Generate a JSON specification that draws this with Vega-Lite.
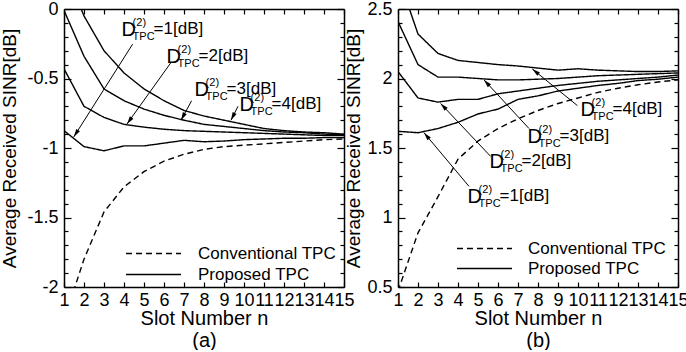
{
  "$schema": "https://vega.github.io/schema/vega-lite/v6.json",
  "padding": 0,
  "bounds": "flush",
  "spacing": 54,
  "config": {
    "font": "Liberation Sans",
    "view": {"stroke": null},
    "axis": {"grid": false, "domainColor": "black", "domainWidth": 1.5, "tickColor": "black", "tickWidth": 1.2, "labelColor": "black", "titleColor": "black", "labelFont": "Liberation Sans", "labelFontSize": 18, "titleFont": "Liberation Sans", "titleFontSize": 19, "titleFontWeight": "normal", "labelOverlap": false, "labelFlush": false},
    "text": {"font": "Liberation Sans", "color": "black"}
  },
  "datasets": {
    "a": [
      {"s":"c","m":"Conventional TPC","n":1,"v":-2.24},{"s":"c","m":"Conventional TPC","n":2,"v":-1.80},{"s":"c","m":"Conventional TPC","n":3,"v":-1.46},{"s":"c","m":"Conventional TPC","n":4,"v":-1.28},{"s":"c","m":"Conventional TPC","n":5,"v":-1.17},{"s":"c","m":"Conventional TPC","n":6,"v":-1.095},{"s":"c","m":"Conventional TPC","n":7,"v":-1.045},{"s":"c","m":"Conventional TPC","n":8,"v":-1.01},{"s":"c","m":"Conventional TPC","n":9,"v":-0.99},{"s":"c","m":"Conventional TPC","n":10,"v":-0.98},{"s":"c","m":"Conventional TPC","n":11,"v":-0.97},{"s":"c","m":"Conventional TPC","n":12,"v":-0.96},{"s":"c","m":"Conventional TPC","n":13,"v":-0.95},{"s":"c","m":"Conventional TPC","n":14,"v":-0.94},{"s":"c","m":"Conventional TPC","n":15,"v":-0.935},
      {"s":"p1","m":"Proposed TPC","n":1,"v":-0.875},{"s":"p1","m":"Proposed TPC","n":2,"v":-0.99},{"s":"p1","m":"Proposed TPC","n":3,"v":-1.02},{"s":"p1","m":"Proposed TPC","n":4,"v":-0.985},{"s":"p1","m":"Proposed TPC","n":5,"v":-0.985},{"s":"p1","m":"Proposed TPC","n":6,"v":-0.965},{"s":"p1","m":"Proposed TPC","n":7,"v":-0.945},{"s":"p1","m":"Proposed TPC","n":8,"v":-0.955},{"s":"p1","m":"Proposed TPC","n":9,"v":-0.95},{"s":"p1","m":"Proposed TPC","n":10,"v":-0.94},{"s":"p1","m":"Proposed TPC","n":11,"v":-0.935},{"s":"p1","m":"Proposed TPC","n":12,"v":-0.93},{"s":"p1","m":"Proposed TPC","n":13,"v":-0.93},{"s":"p1","m":"Proposed TPC","n":14,"v":-0.925},{"s":"p1","m":"Proposed TPC","n":15,"v":-0.925},
      {"s":"p2","m":"Proposed TPC","n":1,"v":-0.43},{"s":"p2","m":"Proposed TPC","n":2,"v":-0.70},{"s":"p2","m":"Proposed TPC","n":3,"v":-0.78},{"s":"p2","m":"Proposed TPC","n":4,"v":-0.83},{"s":"p2","m":"Proposed TPC","n":5,"v":-0.85},{"s":"p2","m":"Proposed TPC","n":6,"v":-0.865},{"s":"p2","m":"Proposed TPC","n":7,"v":-0.875},{"s":"p2","m":"Proposed TPC","n":8,"v":-0.88},{"s":"p2","m":"Proposed TPC","n":9,"v":-0.885},{"s":"p2","m":"Proposed TPC","n":10,"v":-0.89},{"s":"p2","m":"Proposed TPC","n":11,"v":-0.895},{"s":"p2","m":"Proposed TPC","n":12,"v":-0.90},{"s":"p2","m":"Proposed TPC","n":13,"v":-0.905},{"s":"p2","m":"Proposed TPC","n":14,"v":-0.91},{"s":"p2","m":"Proposed TPC","n":15,"v":-0.91},
      {"s":"p3","m":"Proposed TPC","n":1,"v":-0.01},{"s":"p3","m":"Proposed TPC","n":2,"v":-0.34},{"s":"p3","m":"Proposed TPC","n":3,"v":-0.575},{"s":"p3","m":"Proposed TPC","n":4,"v":-0.66},{"s":"p3","m":"Proposed TPC","n":5,"v":-0.72},{"s":"p3","m":"Proposed TPC","n":6,"v":-0.765},{"s":"p3","m":"Proposed TPC","n":7,"v":-0.80},{"s":"p3","m":"Proposed TPC","n":8,"v":-0.83},{"s":"p3","m":"Proposed TPC","n":9,"v":-0.845},{"s":"p3","m":"Proposed TPC","n":10,"v":-0.86},{"s":"p3","m":"Proposed TPC","n":11,"v":-0.875},{"s":"p3","m":"Proposed TPC","n":12,"v":-0.885},{"s":"p3","m":"Proposed TPC","n":13,"v":-0.89},{"s":"p3","m":"Proposed TPC","n":14,"v":-0.90},{"s":"p3","m":"Proposed TPC","n":15,"v":-0.905},
      {"s":"p4","m":"Proposed TPC","n":1,"v":0.30},{"s":"p4","m":"Proposed TPC","n":2,"v":-0.05},{"s":"p4","m":"Proposed TPC","n":3,"v":-0.30},{"s":"p4","m":"Proposed TPC","n":4,"v":-0.46},{"s":"p4","m":"Proposed TPC","n":5,"v":-0.575},{"s":"p4","m":"Proposed TPC","n":6,"v":-0.66},{"s":"p4","m":"Proposed TPC","n":7,"v":-0.73},{"s":"p4","m":"Proposed TPC","n":8,"v":-0.77},{"s":"p4","m":"Proposed TPC","n":9,"v":-0.80},{"s":"p4","m":"Proposed TPC","n":10,"v":-0.83},{"s":"p4","m":"Proposed TPC","n":11,"v":-0.86},{"s":"p4","m":"Proposed TPC","n":12,"v":-0.875},{"s":"p4","m":"Proposed TPC","n":13,"v":-0.885},{"s":"p4","m":"Proposed TPC","n":14,"v":-0.89},{"s":"p4","m":"Proposed TPC","n":15,"v":-0.90}
    ],
    "b": [
      {"s":"c","m":"Conventional TPC","n":1,"v":0.47},{"s":"c","m":"Conventional TPC","n":2,"v":0.89},{"s":"c","m":"Conventional TPC","n":3,"v":1.15},{"s":"c","m":"Conventional TPC","n":4,"v":1.42},{"s":"c","m":"Conventional TPC","n":5,"v":1.55},{"s":"c","m":"Conventional TPC","n":6,"v":1.64},{"s":"c","m":"Conventional TPC","n":7,"v":1.71},{"s":"c","m":"Conventional TPC","n":8,"v":1.77},{"s":"c","m":"Conventional TPC","n":9,"v":1.82},{"s":"c","m":"Conventional TPC","n":10,"v":1.86},{"s":"c","m":"Conventional TPC","n":11,"v":1.90},{"s":"c","m":"Conventional TPC","n":12,"v":1.93},{"s":"c","m":"Conventional TPC","n":13,"v":1.955},{"s":"c","m":"Conventional TPC","n":14,"v":1.975},{"s":"c","m":"Conventional TPC","n":15,"v":1.99},
      {"s":"p1","m":"Proposed TPC","n":1,"v":1.62},{"s":"p1","m":"Proposed TPC","n":2,"v":1.61},{"s":"p1","m":"Proposed TPC","n":3,"v":1.64},{"s":"p1","m":"Proposed TPC","n":4,"v":1.685},{"s":"p1","m":"Proposed TPC","n":5,"v":1.745},{"s":"p1","m":"Proposed TPC","n":6,"v":1.78},{"s":"p1","m":"Proposed TPC","n":7,"v":1.85},{"s":"p1","m":"Proposed TPC","n":8,"v":1.875},{"s":"p1","m":"Proposed TPC","n":9,"v":1.91},{"s":"p1","m":"Proposed TPC","n":10,"v":1.93},{"s":"p1","m":"Proposed TPC","n":11,"v":1.95},{"s":"p1","m":"Proposed TPC","n":12,"v":1.965},{"s":"p1","m":"Proposed TPC","n":13,"v":1.985},{"s":"p1","m":"Proposed TPC","n":14,"v":1.995},{"s":"p1","m":"Proposed TPC","n":15,"v":2.01},
      {"s":"p2","m":"Proposed TPC","n":1,"v":2.05},{"s":"p2","m":"Proposed TPC","n":2,"v":1.86},{"s":"p2","m":"Proposed TPC","n":3,"v":1.83},{"s":"p2","m":"Proposed TPC","n":4,"v":1.85},{"s":"p2","m":"Proposed TPC","n":5,"v":1.85},{"s":"p2","m":"Proposed TPC","n":6,"v":1.89},{"s":"p2","m":"Proposed TPC","n":7,"v":1.91},{"s":"p2","m":"Proposed TPC","n":8,"v":1.93},{"s":"p2","m":"Proposed TPC","n":9,"v":1.95},{"s":"p2","m":"Proposed TPC","n":10,"v":1.965},{"s":"p2","m":"Proposed TPC","n":11,"v":1.98},{"s":"p2","m":"Proposed TPC","n":12,"v":1.99},{"s":"p2","m":"Proposed TPC","n":13,"v":2.0},{"s":"p2","m":"Proposed TPC","n":14,"v":2.01},{"s":"p2","m":"Proposed TPC","n":15,"v":2.025},
      {"s":"p3","m":"Proposed TPC","n":1,"v":2.41},{"s":"p3","m":"Proposed TPC","n":2,"v":2.10},{"s":"p3","m":"Proposed TPC","n":3,"v":2.01},{"s":"p3","m":"Proposed TPC","n":4,"v":2.01},{"s":"p3","m":"Proposed TPC","n":5,"v":2.0},{"s":"p3","m":"Proposed TPC","n":6,"v":1.99},{"s":"p3","m":"Proposed TPC","n":7,"v":1.99},{"s":"p3","m":"Proposed TPC","n":8,"v":1.995},{"s":"p3","m":"Proposed TPC","n":9,"v":2.0},{"s":"p3","m":"Proposed TPC","n":10,"v":2.01},{"s":"p3","m":"Proposed TPC","n":11,"v":2.02},{"s":"p3","m":"Proposed TPC","n":12,"v":2.025},{"s":"p3","m":"Proposed TPC","n":13,"v":2.03},{"s":"p3","m":"Proposed TPC","n":14,"v":2.035},{"s":"p3","m":"Proposed TPC","n":15,"v":2.04},
      {"s":"p4","m":"Proposed TPC","n":1,"v":2.74},{"s":"p4","m":"Proposed TPC","n":2,"v":2.32},{"s":"p4","m":"Proposed TPC","n":3,"v":2.18},{"s":"p4","m":"Proposed TPC","n":4,"v":2.13},{"s":"p4","m":"Proposed TPC","n":5,"v":2.115},{"s":"p4","m":"Proposed TPC","n":6,"v":2.10},{"s":"p4","m":"Proposed TPC","n":7,"v":2.09},{"s":"p4","m":"Proposed TPC","n":8,"v":2.075},{"s":"p4","m":"Proposed TPC","n":9,"v":2.06},{"s":"p4","m":"Proposed TPC","n":10,"v":2.07},{"s":"p4","m":"Proposed TPC","n":11,"v":2.06},{"s":"p4","m":"Proposed TPC","n":12,"v":2.055},{"s":"p4","m":"Proposed TPC","n":13,"v":2.05},{"s":"p4","m":"Proposed TPC","n":14,"v":2.05},{"s":"p4","m":"Proposed TPC","n":15,"v":2.055}
    ],
    "ann_a": [
      {"lx":3.88,"ly":-0.194,"ax":4.43,"ay":-0.253,"hx":1.49,"hy":-0.92,"rest":"=1[dB]"},
      {"lx":6.13,"ly":-0.387,"ax":6.35,"ay":-0.385,"hx":4.15,"hy":-0.827,"rest":"=2[dB]"},
      {"lx":7.53,"ly":-0.624,"ax":7.38,"ay":-0.66,"hx":6.85,"hy":-0.80,"rest":"=3[dB]"},
      {"lx":9.78,"ly":-0.731,"ax":9.7,"ay":-0.70,"hx":9.35,"hy":-0.80,"rest":"=4[dB]"}
    ],
    "ann_b": [
      {"lx":10.13,"ly":1.733,"ax":9.97,"ay":1.805,"hx":7.72,"hy":2.068,"rest":"=4[dB]"},
      {"lx":7.48,"ly":1.539,"ax":7.55,"ay":1.64,"hx":5.3,"hy":1.99,"rest":"=3[dB]"},
      {"lx":5.58,"ly":1.353,"ax":5.63,"ay":1.44,"hx":3.13,"hy":1.82,"rest":"=2[dB]"},
      {"lx":4.48,"ly":1.102,"ax":4.55,"ay":1.224,"hx":2.3,"hy":1.61,"rest":"=1[dB]"}
    ]
  },
  "resolve": {"scale": {"x": "independent", "y": "independent", "strokeDash": "independent"}, "legend": {"strokeDash": "independent"}},
  "hconcat": [
    {
      "width": 280, "height": 278,
      "resolve": {"axis": {"x": "independent", "y": "independent"}},
      "layer": [
        {
          "data": {"name": "a"},
          "mark": {"type": "line", "clip": true, "color": "black", "strokeWidth": 1.4},
          "encoding": {
            "x": {"field": "n", "type": "quantitative", "scale": {"domain": [1, 15], "nice": false, "zero": false},
              "axis": {"orient": "bottom", "values": [1,2,3,4,5,6,7,8,9,10,11,12,13,14,15], "domain": true, "ticks": true, "tickSize": -5, "labelOverlap": false, "labelFlush": false, "labelPadding": 9, "labelExpr": "datum.value + ''", "title": ["Slot Number n", "(a)"], "titleFontSize": 20, "titleLineHeight": 22, "titlePadding": -1}},
            "y": {"field": "v", "type": "quantitative", "scale": {"domain": [-2, 0], "nice": false, "zero": false},
              "axis": {"orient": "left", "values": [-2, -1.5, -1, -0.5, 0], "domain": true, "ticks": true, "tickSize": -7, "labelOverlap": false, "labelFlush": false, "labelPadding": 13, "labelExpr": "datum.value + ''", "title": "Average Received SINR[dB]", "titlePadding": 7}},
            "strokeDash": {"field": "m", "type": "nominal", "scale": {"domain": ["Conventional TPC", "Proposed TPC"], "range": [[6, 4], [1, 0]]},
              "legend": {"orient": "none", "legendX": 61, "legendY": 236, "title": null, "symbolType": "stroke", "symbolSize": 3025, "symbolStrokeWidth": 1.4, "symbolStrokeColor": "black", "clipHeight": 17, "rowPadding": 3, "labelOffset": 16, "labelFontSize": 17, "labelFont": "Liberation Sans", "labelColor": "black", "padding": 0}},
            "detail": {"field": "s"}
          }
        },
        {
          "data": {"name": "a"},
          "mark": {"type": "point", "opacity": 0, "clip": true},
          "encoding": {
            "x": {"field": "n", "type": "quantitative", "axis": {"orient": "top", "aria": true, "values": [1,2,3,4,5,6,7,8,9,10,11,12,13,14,15], "domain": true, "ticks": true, "tickSize": -5, "labels": true, "labelExpr": "''", "labelFontSize": 1, "labelPadding": 0, "minExtent": 0, "maxExtent": 0, "title": null}},
            "y": {"field": "v", "type": "quantitative", "axis": {"orient": "right", "aria": true, "values": [-2, -1.5, -1, -0.5, 0], "domain": true, "ticks": true, "tickSize": -7, "labels": true, "labelExpr": "''", "labelFontSize": 1, "labelPadding": 0, "minExtent": 0, "maxExtent": 0, "title": null}}
          }
        },
        {
          "data": {"name": "a"},
          "mark": {"type": "point", "opacity": 0, "clip": true},
          "encoding": {
            "x": {"field": "n", "type": "quantitative", "axis": null},
            "y": {"field": "v", "type": "quantitative", "axis": {"orient": "left", "aria": true, "values": [-1.9,-1.8,-1.7,-1.6,-1.4,-1.3,-1.2,-1.1,-0.9,-0.8,-0.7,-0.6,-0.4,-0.3,-0.2,-0.1], "domain": false, "ticks": true, "tickSize": -4, "labels": true, "labelExpr": "''", "labelFontSize": 1, "labelPadding": 0, "minExtent": 0, "maxExtent": 0, "title": null}}
          }
        },
        {
          "data": {"name": "a"},
          "mark": {"type": "point", "opacity": 0, "clip": true},
          "encoding": {
            "x": {"field": "n", "type": "quantitative", "axis": null},
            "y": {"field": "v", "type": "quantitative", "axis": {"orient": "right", "aria": true, "values": [-1.9,-1.8,-1.7,-1.6,-1.4,-1.3,-1.2,-1.1,-0.9,-0.8,-0.7,-0.6,-0.4,-0.3,-0.2,-0.1], "domain": false, "ticks": true, "tickSize": -4, "labels": true, "labelExpr": "''", "labelFontSize": 1, "labelPadding": 0, "minExtent": 0, "maxExtent": 0, "title": null}}
          }
        },
        {
          "data": {"name": "ann_a"},
          "mark": {"type": "rule", "color": "black", "strokeWidth": 1},
          "encoding": {
            "x": {"field": "ax", "type": "quantitative", "axis": null},
            "y": {"field": "ay", "type": "quantitative", "axis": null},
            "x2": {"field": "hx"},
            "y2": {"field": "hy"}
          }
        },
        {
          "data": {"name": "ann_a"},
          "transform": [{"calculate": "atan2((datum.hx - datum.ax) * 20, (datum.hy - datum.ay) * 139) * 180 / PI", "as": "ang"}],
          "mark": {"type": "point", "shape": "M0,0L0.55,2L-0.55,2Z", "filled": true, "color": "black", "size": 64, "opacity": 1},
          "encoding": {
            "x": {"field": "hx", "type": "quantitative", "axis": null},
            "y": {"field": "hy", "type": "quantitative", "axis": null},
            "angle": {"field": "ang", "type": "quantitative", "scale": null}
          }
        },
        {
          "data": {"name": "ann_a"},
          "mark": {"type": "text", "text": "D", "fontSize": 20, "align": "left", "baseline": "alphabetic"},
          "encoding": {"x": {"field": "lx", "type": "quantitative", "axis": null}, "y": {"field": "ly", "type": "quantitative", "axis": null}}
        },
        {
          "data": {"name": "ann_a"},
          "mark": {"type": "text", "text": "(2)", "fontSize": 11, "align": "left", "baseline": "alphabetic", "dx": 11, "dy": -10},
          "encoding": {"x": {"field": "lx", "type": "quantitative", "axis": null}, "y": {"field": "ly", "type": "quantitative", "axis": null}}
        },
        {
          "data": {"name": "ann_a"},
          "mark": {"type": "text", "text": "TPC", "fontSize": 11, "align": "left", "baseline": "alphabetic", "dx": 11, "dy": 4},
          "encoding": {"x": {"field": "lx", "type": "quantitative", "axis": null}, "y": {"field": "ly", "type": "quantitative", "axis": null}}
        },
        {
          "data": {"name": "ann_a"},
          "mark": {"type": "text", "fontSize": 17, "align": "left", "baseline": "alphabetic", "dx": 32, "dy": -2},
          "encoding": {"x": {"field": "lx", "type": "quantitative", "axis": null}, "y": {"field": "ly", "type": "quantitative", "axis": null}, "text": {"field": "rest"}}
        }
      ]
    },
    {
      "width": 280, "height": 278,
      "resolve": {"axis": {"x": "independent", "y": "independent"}},
      "layer": [
        {
          "data": {"name": "b"},
          "mark": {"type": "line", "clip": true, "color": "black", "strokeWidth": 1.4},
          "encoding": {
            "x": {"field": "n", "type": "quantitative", "scale": {"domain": [1, 15], "nice": false, "zero": false},
              "axis": {"orient": "bottom", "values": [1,2,3,4,5,6,7,8,9,10,11,12,13,14,15], "domain": true, "ticks": true, "tickSize": -5, "labelOverlap": false, "labelFlush": false, "labelPadding": 9, "labelExpr": "datum.value + ''", "title": ["Slot Number n", "(b)"], "titleFontSize": 20, "titleLineHeight": 22, "titlePadding": -1}},
            "y": {"field": "v", "type": "quantitative", "scale": {"domain": [0.5, 2.5], "nice": false, "zero": false},
              "axis": {"orient": "left", "values": [0.5, 1, 1.5, 2, 2.5], "domain": true, "ticks": true, "tickSize": -7, "labelOverlap": false, "labelFlush": false, "labelPadding": 13, "labelExpr": "datum.value + ''", "title": "Average Received SINR[dB]", "titlePadding": 3}},
            "strokeDash": {"field": "m", "type": "nominal", "scale": {"domain": ["Conventional TPC", "Proposed TPC"], "range": [[6, 4], [1, 0]]},
              "legend": {"orient": "none", "legendX": 58, "legendY": 231, "title": null, "symbolType": "stroke", "symbolSize": 3025, "symbolStrokeWidth": 1.4, "symbolStrokeColor": "black", "clipHeight": 17, "rowPadding": 2, "labelOffset": 15, "labelFontSize": 17, "labelFont": "Liberation Sans", "labelColor": "black", "padding": 0}},
            "detail": {"field": "s"}
          }
        },
        {
          "data": {"name": "b"},
          "mark": {"type": "point", "opacity": 0, "clip": true},
          "encoding": {
            "x": {"field": "n", "type": "quantitative", "axis": {"orient": "top", "aria": true, "values": [1,2,3,4,5,6,7,8,9,10,11,12,13,14,15], "domain": true, "ticks": true, "tickSize": -5, "labels": true, "labelExpr": "''", "labelFontSize": 1, "labelPadding": 0, "minExtent": 0, "maxExtent": 0, "title": null}},
            "y": {"field": "v", "type": "quantitative", "axis": {"orient": "right", "aria": true, "values": [0.5, 1, 1.5, 2, 2.5], "domain": true, "ticks": true, "tickSize": -7, "labels": true, "labelExpr": "''", "labelFontSize": 1, "labelPadding": 0, "minExtent": 0, "maxExtent": 0, "title": null}}
          }
        },
        {
          "data": {"name": "b"},
          "mark": {"type": "point", "opacity": 0, "clip": true},
          "encoding": {
            "x": {"field": "n", "type": "quantitative", "axis": null},
            "y": {"field": "v", "type": "quantitative", "axis": {"orient": "left", "aria": true, "values": [0.6,0.7,0.8,0.9,1.1,1.2,1.3,1.4,1.6,1.7,1.8,1.9,2.1,2.2,2.3,2.4], "domain": false, "ticks": true, "tickSize": -4, "labels": true, "labelExpr": "''", "labelFontSize": 1, "labelPadding": 0, "minExtent": 0, "maxExtent": 0, "title": null}}
          }
        },
        {
          "data": {"name": "b"},
          "mark": {"type": "point", "opacity": 0, "clip": true},
          "encoding": {
            "x": {"field": "n", "type": "quantitative", "axis": null},
            "y": {"field": "v", "type": "quantitative", "axis": {"orient": "right", "aria": true, "values": [0.6,0.7,0.8,0.9,1.1,1.2,1.3,1.4,1.6,1.7,1.8,1.9,2.1,2.2,2.3,2.4], "domain": false, "ticks": true, "tickSize": -4, "labels": true, "labelExpr": "''", "labelFontSize": 1, "labelPadding": 0, "minExtent": 0, "maxExtent": 0, "title": null}}
          }
        },
        {
          "data": {"name": "ann_b"},
          "mark": {"type": "rule", "color": "black", "strokeWidth": 1},
          "encoding": {
            "x": {"field": "ax", "type": "quantitative", "axis": null},
            "y": {"field": "ay", "type": "quantitative", "axis": null},
            "x2": {"field": "hx"},
            "y2": {"field": "hy"}
          }
        },
        {
          "data": {"name": "ann_b"},
          "transform": [{"calculate": "atan2((datum.hx - datum.ax) * 20, (datum.hy - datum.ay) * 139) * 180 / PI", "as": "ang"}],
          "mark": {"type": "point", "shape": "M0,0L0.55,2L-0.55,2Z", "filled": true, "color": "black", "size": 64, "opacity": 1},
          "encoding": {
            "x": {"field": "hx", "type": "quantitative", "axis": null},
            "y": {"field": "hy", "type": "quantitative", "axis": null},
            "angle": {"field": "ang", "type": "quantitative", "scale": null}
          }
        },
        {
          "data": {"name": "ann_b"},
          "mark": {"type": "text", "text": "D", "fontSize": 20, "align": "left", "baseline": "alphabetic"},
          "encoding": {"x": {"field": "lx", "type": "quantitative", "axis": null}, "y": {"field": "ly", "type": "quantitative", "axis": null}}
        },
        {
          "data": {"name": "ann_b"},
          "mark": {"type": "text", "text": "(2)", "fontSize": 11, "align": "left", "baseline": "alphabetic", "dx": 11, "dy": -10},
          "encoding": {"x": {"field": "lx", "type": "quantitative", "axis": null}, "y": {"field": "ly", "type": "quantitative", "axis": null}}
        },
        {
          "data": {"name": "ann_b"},
          "mark": {"type": "text", "text": "TPC", "fontSize": 11, "align": "left", "baseline": "alphabetic", "dx": 11, "dy": 4},
          "encoding": {"x": {"field": "lx", "type": "quantitative", "axis": null}, "y": {"field": "ly", "type": "quantitative", "axis": null}}
        },
        {
          "data": {"name": "ann_b"},
          "mark": {"type": "text", "fontSize": 17, "align": "left", "baseline": "alphabetic", "dx": 32, "dy": -2},
          "encoding": {"x": {"field": "lx", "type": "quantitative", "axis": null}, "y": {"field": "ly", "type": "quantitative", "axis": null}, "text": {"field": "rest"}}
        }
      ]
    }
  ]
}
